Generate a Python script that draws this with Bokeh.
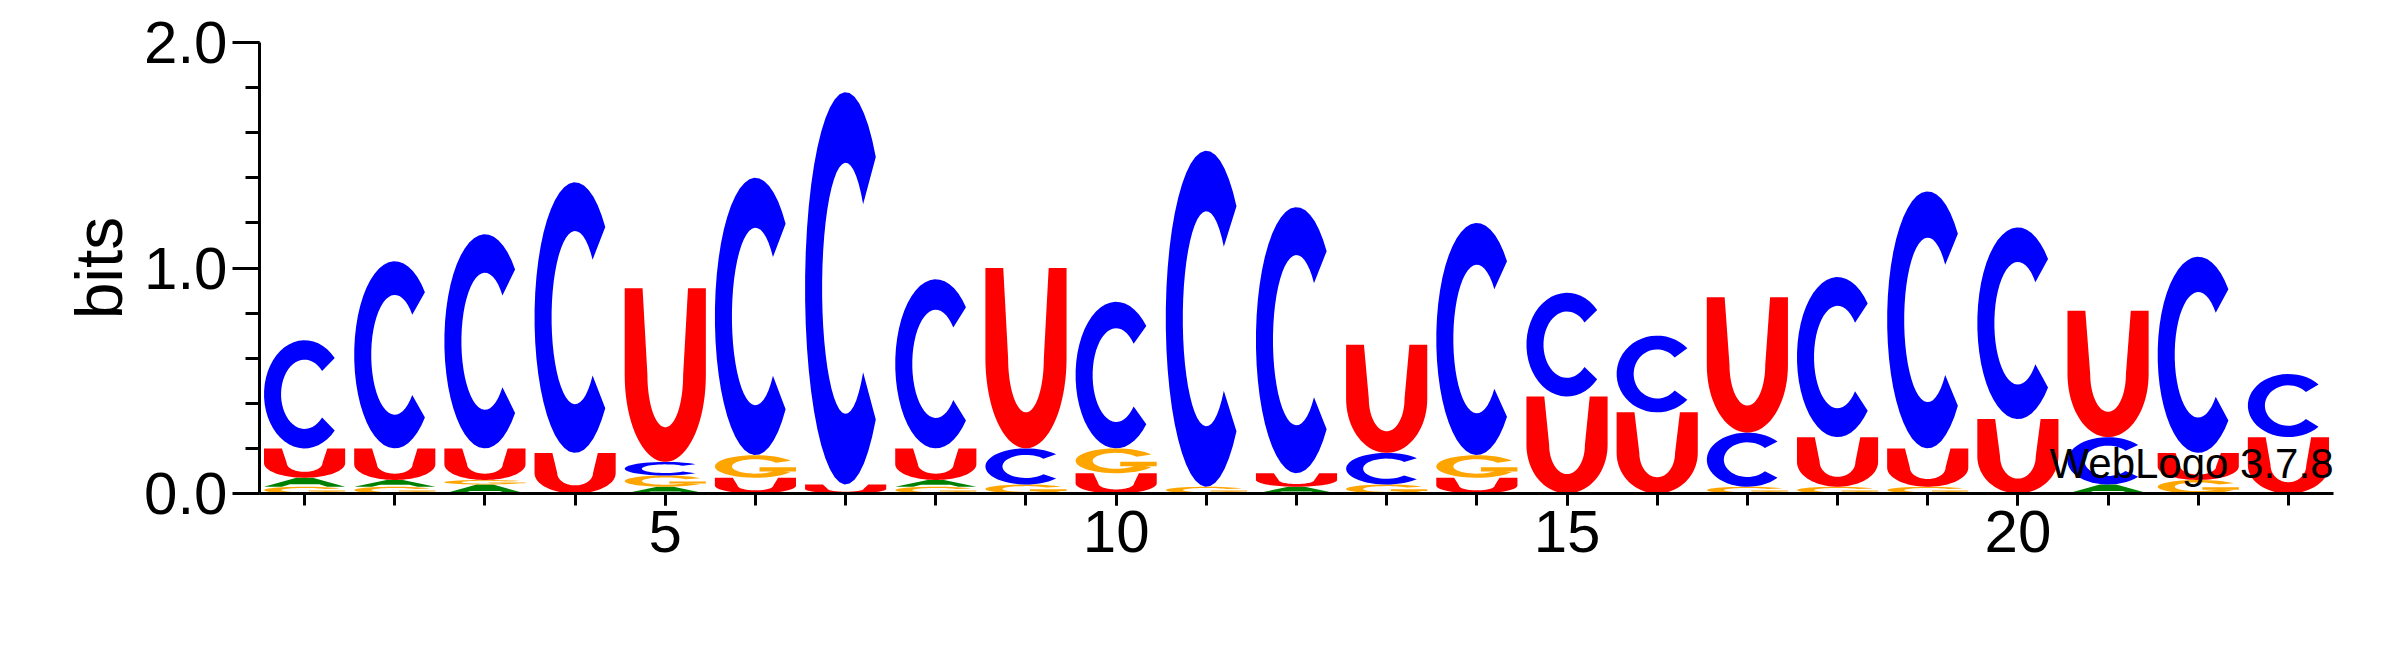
import numpy as np
from bokeh.plotting import figure
from bokeh.models import SingleIntervalTicker, Label, PrintfTickFormatter
from bokeh.embed import file_html
from bokeh.resources import INLINE

# stacks per position, bottom to top: (letter, height in bits)
stacks = [
    [("G", 0.03), ("A", 0.04), ("U", 0.13), ("C", 0.48)],
    [("G", 0.03), ("A", 0.03), ("U", 0.14), ("C", 0.83)],
    [("A", 0.04), ("G", 0.02), ("U", 0.14), ("C", 0.95)],
    [("U", 0.18), ("C", 1.20)],
    [("A", 0.03), ("G", 0.05), ("C", 0.06), ("U", 0.77)],
    [("U", 0.07), ("G", 0.10), ("C", 1.23)],
    [("U", 0.04), ("C", 1.74)],
    [("G", 0.03), ("A", 0.03), ("U", 0.14), ("C", 0.75)],
    [("G", 0.04), ("C", 0.16), ("U", 0.80)],
    [("U", 0.09), ("G", 0.11), ("C", 0.65)],
    [("G", 0.03), ("C", 1.49)],
    [("A", 0.03), ("U", 0.06), ("C", 1.18)],
    [("G", 0.04), ("C", 0.14), ("U", 0.48)],
    [("U", 0.07), ("G", 0.10), ("C", 1.03)],
    [("U", 0.43), ("C", 0.46)],
    [("U", 0.36), ("C", 0.34)],
    [("G", 0.03), ("C", 0.24), ("U", 0.60)],
    [("G", 0.03), ("U", 0.22), ("C", 0.71)],
    [("G", 0.03), ("U", 0.17), ("C", 1.14)],
    [("U", 0.33), ("C", 0.85)],
    [("A", 0.04), ("C", 0.21), ("U", 0.56)],
    [("G", 0.06), ("U", 0.12), ("C", 0.87)],
    [("U", 0.25), ("C", 0.28)],
]
colors = {"C": "#0000ff", "U": "#ff0000", "G": "#ffa500", "A": "#008000"}


def arc(cx, cy, rx, ry, a0, a1, n=40):
    t = np.radians(np.linspace(a0, a1, n))
    return list(cx + rx * np.cos(t)), list(cy + ry * np.sin(t))


def shape_c(gap=42):
    ox, oy = arc(0.5, 0.5, 0.5, 0.5, gap, 360 - gap)
    ix, iy = arc(0.5, 0.5, 0.29, 0.32, 360 - gap, gap)
    return [(ox + ix, oy + iy)]


def shape_u():
    ox, oy = arc(0.5, 0.5, 0.5, 0.5, 180, 360)
    ix, iy = arc(0.5, 0.5, 0.22, 0.3, 360, 180)
    xs = [0.0] + ox + [1.0, 0.78] + ix + [0.22]
    ys = [1.0] + oy + [1.0, 1.0] + iy + [1.0]
    return [(xs, ys)]


def shape_g():
    parts = shape_c(gap=30)
    parts.append(([0.55, 1.0, 1.0, 0.55], [0.28, 0.28, 0.46, 0.46]))
    return parts


def shape_a():
    return [([0, 0.4, 0.6, 1, 0.78, 0.68, 0.32, 0.22],
             [0, 1, 1, 0, 0, 0.28, 0.28, 0])]


shapes = {"C": shape_c(), "U": shape_u(), "G": shape_g(), "A": shape_a()}

xs, ys, cs = [], [], []
lw = 0.9
for i, stack in enumerate(stacks):
    pos = i + 1
    base = 0.0
    for letter, h in stack:
        for sx, sy in shapes[letter]:
            xs.append([pos - lw / 2 + lw * v for v in sx])
            ys.append([base + h * v for v in sy])
            cs.append(colors[letter])
        base += h

p = figure(frame_width=2074, frame_height=451, x_range=(0.5, 23.5), y_range=(0, 2.0),
           output_backend="svg", toolbar_location=None,
           min_border_left=259, min_border_top=42, min_border_bottom=160, min_border_right=20)
p.patches(xs, ys, fill_color=cs, line_color=None)

p.grid.visible = False
p.outline_line_color = None
for ax in (p.xaxis, p.yaxis):
    ax.axis_line_width = 3
    ax.major_tick_line_width = 3
    ax.minor_tick_line_width = 3
    ax.major_label_text_font = "Liberation Sans"
    ax.major_label_text_font_size = "60px"
    ax.major_label_text_color = "black"
    ax.axis_line_color = "black"
    ax.major_tick_in = 0
    ax.minor_tick_in = 0

p.xaxis.ticker = SingleIntervalTicker(interval=5, num_minor_ticks=5)
p.xaxis.major_tick_out = 12
p.xaxis.minor_tick_out = 12
p.yaxis.ticker = SingleIntervalTicker(interval=1, num_minor_ticks=5)
p.yaxis.major_tick_out = 27
p.yaxis.minor_tick_out = 14
p.yaxis.formatter = PrintfTickFormatter(format="%.1f")
p.yaxis.axis_label = "bits"
p.yaxis.axis_label_text_font = "Liberation Sans"
p.yaxis.axis_label_text_font_size = "66px"
p.yaxis.axis_label_text_font_style = "normal"
p.yaxis.axis_label_text_color = "black"

p.add_layout(Label(x=23.5, y=30, y_units="screen", text="WebLogo 3.7.8", text_align="right",
                   text_baseline="middle", text_font="Liberation Sans",
                   text_font_size="42px", text_color="black"))

open("out.html", "w").write(file_html(p, INLINE))
